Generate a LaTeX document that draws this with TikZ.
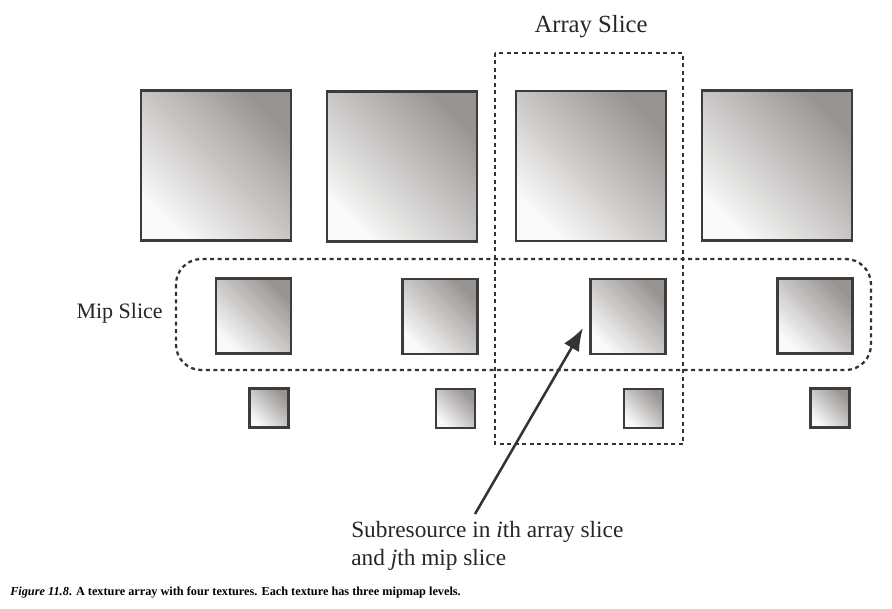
\documentclass[tikz,border=0pt]{standalone}
\usepackage{fontspec}
\setmainfont{Liberation Serif}
\usetikzlibrary{arrows.meta}
\definecolor{edge}{HTML}{3C3C3C}
\definecolor{dark}{HTML}{989492}
\definecolor{lite}{HTML}{FAFAFA}
\definecolor{dashc}{HTML}{333333}
\tikzset{
  tex/.style={draw=edge, line width=1.7pt, shade, top color=dark, bottom color=lite, shading angle=-45, inner sep=0pt},
  bigsq/.style={tex, minimum size=112.5pt},
  midsq/.style={tex, minimum size=56.25pt},
  smallsq/.style={tex, minimum size=29.25pt},
  slicebox/.style={draw=dashc, line width=1.7pt, dash pattern=on 3pt off 2.6pt},
  lbl/.style={inner sep=0pt, text=black!85},
}
\begin{document}
\begin{tikzpicture}[x=0.75pt, y=-0.75pt]
\useasboundingbox[fill=white] (0,0) rectangle (892,608);
% big
\node[bigsq] (b1) at (216,165.5) {};
\node[bigsq] (b2) at (402,166.5) {};
\node[bigsq] (b3) at (591,166) {};
\node[bigsq] (b4) at (777,165.5) {};
% mid
\node[midsq] (m1) at (253.5,316) {};
\node[midsq] (m2) at (440,316.5) {};
\node[midsq] (m3) at (628,316.5) {};
\node[midsq] (m4) at (815,316) {};
% small
\node[smallsq] (s1) at (269,408) {};
\node[smallsq] (s2) at (455.5,408.5) {};
\node[smallsq] (s3) at (643.5,408.5) {};
\node[smallsq] (s4) at (830,408) {};
% slices
\draw[slicebox, rounded corners=19pt] (176,259) rectangle (871,370);
\draw[slicebox] (495,53) rectangle (683,444);
% labels
\node[lbl, font=\fontsize{18.5}{22}\selectfont] (arr) at (591,27) {Array Slice};
\node[lbl, font=\fontsize{16.5}{20}\selectfont, anchor=base east] (mip) at (163,318) {Mip Slice};
\node[lbl, font=\fontsize{17.5}{21}\selectfont, anchor=base west] (sub1) at (351,537) {Subresource in \textit{i}th array slice};
\node[lbl, font=\fontsize{17.5}{21}\selectfont, anchor=base west] (sub2) at (351,565) {and \textit{j}th mip slice};
\node[inner sep=0pt, anchor=base west, font=\fontsize{9.2}{11}\selectfont\bfseries] (cap) at (10,595) {\textit{Figure 11.8}. A texture array with four textures. Each texture has three mipmap levels.};
% arrow
\coordinate (tail) at (475,514);
\coordinate (tip) at (583,328);
\draw[draw=dashc, line width=1.9pt, -{Latex[length=17pt, width=13pt]}] (tail) -- (tip);
\end{tikzpicture}
\end{document}
